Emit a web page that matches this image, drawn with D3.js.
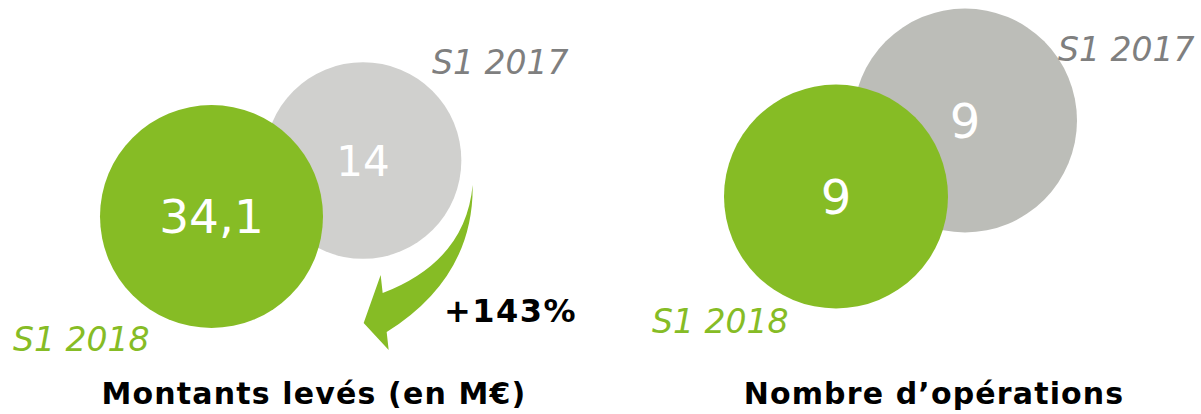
<!DOCTYPE html>
<html>
<head>
<meta charset="utf-8">
<script src="https://cdn.jsdelivr.net/npm/d3@7/dist/d3.min.js"></script>
<style>
  html, body { margin: 0; padding: 0; background: #ffffff; }
  svg { display: block; }
  text { font-family: "DejaVu Sans", Verdana, sans-serif; }
</style>
</head>
<body>
<div id="chart"></div>
<script>
// Semester comparison: S1 2018 vs S1 2017
const periods = ["S1 2017", "S1 2018"];
const amountsRaised = [14, 34.1];      // M€
const dealCount = [9, 9];              // nombre d'opérations
const amountLabels = ["14", "34,1"];
const countLabels = ["9", "9"];
const panelTitles = ["Montants levés (en M€)", "Nombre d’opérations"];
const growthLabel = "+143%";

const W = 1201, H = 414;
const GREEN = "#86bc25";
const TEXT_GREY = "#7f7f7f";

const svg = d3.select("#chart").append("svg")
  .attr("width", W).attr("height", H);

// Panel layout: circle centres for [2017, 2018] and label anchors
const panels = [
  {
    values: amountsRaised, labels: amountLabels, title: panelTitles[0],
    rMax: 111.5, centres: [[363, 160.5], [211.5, 216.5]],
    grey: "#d0d0ce", valueSize: [42, 47],
    periodPos: [[432, 74, "start"], [13, 351, "start"]],
    titleX: 314, arrow: true
  },
  {
    values: dealCount, labels: countLabels, title: panelTitles[1],
    rMax: 112, centres: [[965, 120.5], [836, 196.5]],
    grey: "#bcbdb8", valueSize: [48, 48],
    periodPos: [[1058, 61, "start"], [652, 333, "start"]],
    titleX: 934, arrow: false
  }
];

panels.forEach(p => {
  const g = svg.append("g");
  const r = d3.scaleLinear()
    .domain([0, d3.max(p.values)])
    .range([p.rMax * 0.8, p.rMax]);

  const nodes = periods.map((per, i) => ({
    period: per, value: p.values[i], label: p.labels[i],
    cx: p.centres[i][0], cy: p.centres[i][1],
    fill: i === 0 ? p.grey : GREEN,
    size: p.valueSize[i]
  }));

  // 2017 drawn first, 2018 overlaps it
  g.selectAll("circle").data(nodes).join("circle")
    .attr("cx", d => d.cx).attr("cy", d => d.cy)
    .attr("r", d => r(d.value))
    .attr("fill", d => d.fill);

  g.selectAll("text.value").data(nodes).join("text")
    .attr("class", "value")
    .attr("x", d => d.cx).attr("y", d => d.cy)
    .attr("dy", "0.36em")
    .attr("text-anchor", "middle")
    .attr("fill", "#ffffff")
    .attr("font-size", d => d.size)
    .text(d => d.label);

  g.selectAll("text.period").data(nodes).join("text")
    .attr("class", "period")
    .attr("x", (d, i) => p.periodPos[i][0])
    .attr("y", (d, i) => p.periodPos[i][1])
    .attr("text-anchor", (d, i) => p.periodPos[i][2])
    .attr("font-size", 33)
    .attr("font-style", "italic")
    .attr("fill", (d, i) => i === 0 ? TEXT_GREY : GREEN)
    .text(d => d.period);

  g.append("text")
    .attr("x", p.titleX).attr("y", 404)
    .attr("text-anchor", "middle")
    .attr("font-size", 30)
    .attr("letter-spacing", 1.15)
    .attr("font-weight", "bold")
    .attr("fill", "#000000")
    .text(p.title);

  if (p.arrow) {
    // curved growth arrow hanging off the right side of the 2017 circle
    const c = nodes[0];
    const rr = r(c.value);
    const tx = c.cx + rr * 1.115, ty = c.cy + rr * 0.25;
    const pt = (dx, dy) => [tx + dx, ty + dy];
    const path = d3.path();
    path.moveTo(...pt(0, 0));
    path.quadraticCurveTo(...pt(-7, 76), ...pt(-90, 108));
    path.lineTo(...pt(-92, 90));
    path.lineTo(...pt(-109, 138));
    path.lineTo(...pt(-84, 165));
    path.lineTo(...pt(-86, 147));
    path.quadraticCurveTo(...pt(1, 92.5), ...pt(0, 0));
    path.closePath();
    g.append("path").attr("d", path.toString()).attr("fill", GREEN);

    g.append("text")
      .attr("x", 444).attr("y", 322)
      .attr("font-size", 32)
      .attr("letter-spacing", 1.5)
      .attr("font-weight", "bold")
      .attr("fill", "#000000")
      .text(growthLabel);
  }
});
</script>
</body>
</html>
